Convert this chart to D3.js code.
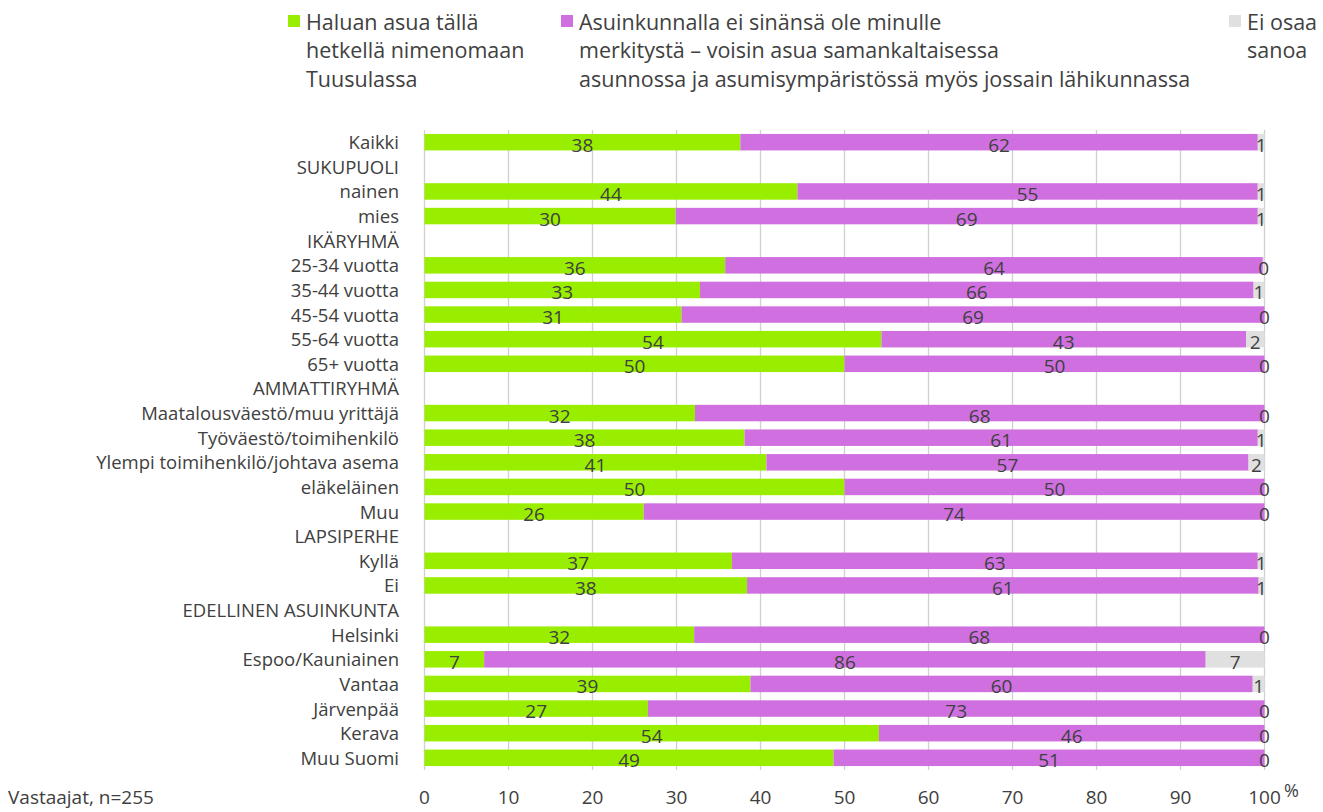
<!DOCTYPE html>
<html lang="fi">
<head>
<meta charset="UTF-8">
<title>Asuinkunta</title>
<script src="https://cdn.jsdelivr.net/npm/d3@7"></script>
<style>
  body { margin: 0; background: #fff; }
  svg text { font-family: "Open Sans", sans-serif; fill: #404040; }
</style>
</head>
<body>
<div id="chart"></div>
<script>
// rivit (otsikkorivit ilman arvoja)
const categories = ["Kaikki", "SUKUPUOLI", "nainen", "mies", "IKÄRYHMÄ",
  "25-34 vuotta", "35-44 vuotta", "45-54 vuotta", "55-64 vuotta", "65+ vuotta",
  "AMMATTIRYHMÄ", "Maatalousväestö/muu yrittäjä", "Työväestö/toimihenkilö",
  "Ylempi toimihenkilö/johtava asema", "eläkeläinen", "Muu",
  "LAPSIPERHE", "Kyllä", "Ei",
  "EDELLINEN ASUINKUNTA", "Helsinki", "Espoo/Kauniainen", "Vantaa", "Järvenpää", "Kerava", "Muu Suomi"];

const tuusula = [37.6, null, 44.4, 29.9, null, 35.8, 32.8, 30.6, 54.4, 50.0,
  null, 32.2, 38.1, 40.7, 50.0, 26.1, null, 36.6, 38.4,
  null, 32.1, 7.1, 38.8, 26.6, 54.1, 48.7];
const lahikunta = [61.6, null, 54.8, 69.3, null, 64.0, 65.9, 69.4, 43.4, 50.0,
  null, 67.8, 61.1, 57.4, 50.0, 73.9, null, 62.6, 60.9,
  null, 67.9, 85.9, 59.8, 73.4, 45.9, 51.3];
const eiOsaa = [0.8, null, 0.8, 0.8, null, 0.2, 1.3, 0, 2.2, 0,
  null, 0, 0.8, 1.9, 0, 0, null, 0.8, 0.7,
  null, 0, 7.0, 1.4, 0, 0, 0];

const seriesNames = [
  ["Haluan asua tällä", "hetkellä nimenomaan", "Tuusulassa"],
  ["Asuinkunnalla ei sinänsä ole minulle", "merkitystä – voisin asua samankaltaisessa", "asunnossa ja asumisympäristössä myös jossain lähikunnassa"],
  ["Ei osaa", "sanoa"]
];
const colors = ["#99ee00", "#d070e0", "#e0e0e0"];
const xTicks = [0, 10, 20, 30, 40, 50, 60, 70, 80, 90, 100];

const width = 1323, height = 812;
const svg = d3.select("#chart").append("svg")
  .attr("width", width).attr("height", height);

const x = d3.scaleLinear().domain([0, 100]).range([424.5, 1264.5]);
const y = d3.scaleBand().domain(categories).range([130, 770]).paddingInner(0.33).paddingOuter(0.16);

// pystyviivat
svg.append("g").selectAll("line").data(xTicks).join("line")
  .attr("x1", d => x(d)).attr("x2", d => x(d))
  .attr("y1", 130).attr("y2", 770)
  .attr("stroke", "#d0d0d0").attr("stroke-width", 1.3);

// pinotut palkit
const rows = categories.map((c, i) => ({ cat: c, vals: [tuusula[i], lahikunta[i], eiOsaa[i]] }))
  .filter(r => r.vals[0] != null);

rows.forEach(r => {
  let start = 0;
  r.vals.forEach((v, k) => {
    const g = svg.append("g");
    g.append("rect")
      .attr("x", x(start)).attr("y", y(r.cat))
      .attr("width", x(start + v) - x(start)).attr("height", y.bandwidth())
      .attr("fill", colors[k]);
    g.append("text")
      .attr("x", (x(start) + x(start + v)) / 2)
      .attr("y", y(r.cat) + y.bandwidth() / 2 + 9.5)
      .attr("text-anchor", "middle")
      .attr("font-size", 19)
      .text(Math.round(v));
    start += v;
  });
});

// luokat
svg.append("g").selectAll("text").data(categories).join("text")
  .attr("x", 399).attr("y", d => y(d) + y.bandwidth() / 2 + 7)
  .attr("text-anchor", "end").attr("font-size", 18.5)
  .text(d => d);

// x-akseli
svg.append("g").selectAll("text").data(xTicks).join("text")
  .attr("x", d => x(d)).attr("y", 804)
  .attr("text-anchor", "middle").attr("font-size", 19)
  .text(d => d);
svg.append("text").attr("x", 1284).attr("y", 797).attr("font-size", 18).text("%");
svg.append("text").attr("x", 8).attr("y", 804).attr("font-size", 19).text("Vastaajat, n=255");

// selite
const legendX = [288, 561, 1229];
seriesNames.forEach((lines, k) => {
  svg.append("rect").attr("x", legendX[k]).attr("y", 15).attr("width", 12).attr("height", 12)
    .attr("fill", colors[k]);
  lines.forEach((t, j) => {
    svg.append("text").attr("x", legendX[k] + 18).attr("y", 29.5 + j * 28.5)
      .attr("font-size", 21.5).text(t);
  });
});
</script>
</body>
</html>
